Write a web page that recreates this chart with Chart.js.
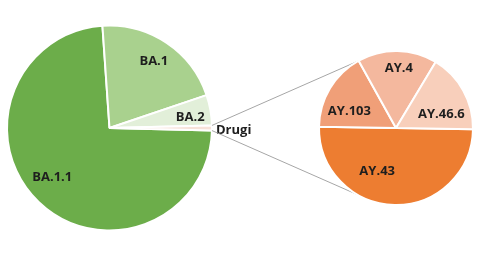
<!DOCTYPE html>
<html>
<head>
<meta charset="utf-8">
<script src="https://cdn.jsdelivr.net/npm/chart.js@4.4.0/dist/chart.umd.min.js"></script>
<style>
  body { margin: 0; background: #fff; }
  #wrap { position: relative; width: 480px; height: 257px; }
  #wrap canvas { position: absolute; left: 0; top: 0; }
</style>
</head>
<body>
<div id="wrap">
  <canvas id="mainPie" width="480" height="257"></canvas>
  <canvas id="subPie" width="480" height="257"></canvas>
</div>
<script>
// main pie (share in %)
const mainLabels = ["BA.1.1", "BA.1", "BA.2", "Drugi"];
const mainValues = [73.5, 20.9, 4.8, 0.8];
// "Drugi" broken down
const subLabels = ["AY.43", "AY.103", "AY.4", "AY.46.6"];
const subValues = [3, 1, 1, 1];

const mainColors = ["#6cad4a", "#a9d18e", "#e2efd9", "#f7e1d8"];
const subColors = ["#ed7d31", "#f09f78", "#f4b89e", "#f8cfbb"];

// small label shifts (px) from the spot inside each slice
const mainNudge = [[-2, -8], [0, 0], [2, 3], [0, 0]];
const subNudge = [[-18, -3], [-7, 7], [2, -14], [5, 9]];

const sliceLabels = {
  id: "sliceLabels",
  afterDatasetsDraw(chart, args, opts) {
    const ctx = chart.ctx;
    const arcs = chart.getDatasetMeta(0).data;
    ctx.save();
    ctx.font = "bold 13px 'Open Sans'";
    ctx.fillStyle = "#1e1e1e";
    ctx.textBaseline = "middle";
    arcs.forEach((arc, i) => {
      const p = arc.getProps(["x", "y", "startAngle", "endAngle", "outerRadius"]);
      const mid = (p.startAngle + p.endAngle) / 2;
      const text = chart.data.labels[i];
      if (opts.outside === i) {
        ctx.textAlign = "left";
        ctx.fillText(text, p.x + p.outerRadius + 4, p.y + Math.sin(mid) * p.outerRadius + 2);
      } else {
        const r = p.outerRadius * opts.depth;
        const n = opts.nudge[i] || [0, 0];
        ctx.textAlign = "center";
        ctx.fillText(text, p.x + Math.cos(mid) * r + n[0], p.y + Math.sin(mid) * r + n[1]);
      }
    });
    ctx.restore();
  }
};

const total = mainValues.reduce((a, b) => a + b, 0);
const drugiDeg = 360 * mainValues[3] / total;

const mainChart = new Chart(document.getElementById("mainPie"), {
  type: "pie",
  data: {
    labels: mainLabels,
    datasets: [{ data: mainValues, backgroundColor: mainColors, borderColor: "#fff", borderWidth: 2 }]
  },
  options: {
    responsive: false,
    animation: false,
    rotation: 90 + drugiDeg / 2,
    layout: { padding: { left: 6, right: 267, top: 24, bottom: 25 } },
    plugins: {
      legend: { display: false },
      tooltip: { enabled: false },
      sliceLabels: { depth: 0.78, nudge: mainNudge, outside: 3 }
    }
  },
  plugins: [sliceLabels]
});

// grey lines from "Drugi" to the second pie
const connectors = {
  id: "connectors",
  beforeDatasetsDraw(chart) {
    const drugi = mainChart.getDatasetMeta(0).data[3];
    const d = drugi.getProps(["x", "y", "startAngle", "endAngle", "outerRadius"]);
    const sub = chart.getDatasetMeta(0).data[0].getProps(["x", "y", "outerRadius"]);
    const ctx = chart.ctx;
    const ends = [[d.startAngle, Math.PI * 4 / 3], [d.endAngle, Math.PI * 2 / 3]];
    ctx.save();
    ctx.strokeStyle = "#a6a6a6";
    ctx.lineWidth = 1;
    ends.forEach(([a0, a1]) => {
      ctx.beginPath();
      ctx.moveTo(d.x + Math.cos(a0) * d.outerRadius, d.y + Math.sin(a0) * d.outerRadius);
      ctx.lineTo(sub.x + Math.cos(a1) * sub.outerRadius, sub.y + Math.sin(a1) * sub.outerRadius);
      ctx.stroke();
    });
    ctx.restore();
  }
};

new Chart(document.getElementById("subPie"), {
  type: "pie",
  data: {
    labels: subLabels,
    datasets: [{ data: subValues, backgroundColor: subColors, borderColor: "#fff", borderWidth: 2 }]
  },
  options: {
    responsive: false,
    animation: false,
    rotation: 91,
    layout: { padding: { left: 318, right: 6, top: 50, bottom: 51 } },
    plugins: {
      legend: { display: false },
      tooltip: { enabled: false },
      sliceLabels: { depth: 0.6, nudge: subNudge }
    }
  },
  plugins: [connectors, sliceLabels]
});
</script>
</body>
</html>
